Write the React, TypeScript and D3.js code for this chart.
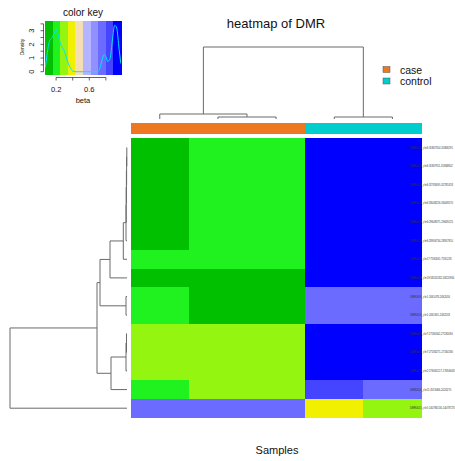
import React from "react";
import * as d3 from "d3";

// samples (columns) and their groups
const samples = ["case_1", "case_2", "case_3", "control_1", "control_2"];
const groups = ["case", "case", "case", "control", "control"];
const groupNames = ["case", "control"];
const groupColors = ["#ee7722", "#00cdcd"];

// DMR row labels (top to bottom)
const rowLabels = [
  "DMR0001_chr6:31867354-31868291",
  "DMR0002_chr6:31867911-31868802",
  "DMR0003_chr6:32783095-32785318",
  "DMR0004_chr6:33048226-33049570",
  "DMR0005_chr6:29648371-29649225",
  "DMR0006_chr6:28956734-28957810",
  "DMR0007_chr17:7590341-7591228",
  "DMR0008_chr19:58220182-58220950",
  "DMR0009_chr1:2461078-2462034",
  "DMR0010_chr1:2461901-2462533",
  "DMR0011_chr7:27180562-27181694",
  "DMR0012_chr7:27183271-27184180",
  "DMR0013_chr2:176945217-176946037",
  "DMR0014_chr11:2019466-2020270",
  "DMR0015_chr5:140786130-140787274",
];

// beta values per sample, one per DMR row
const case1 = [0.12, 0.12, 0.12, 0.13, 0.12, 0.12, 0.2, 0.1, 0.22, 0.21, 0.3, 0.29, 0.3, 0.19, 0.76];
const case2 = [0.21, 0.21, 0.22, 0.21, 0.21, 0.2, 0.2, 0.1, 0.13, 0.13, 0.3, 0.3, 0.29, 0.31, 0.76];
const case3 = [0.21, 0.22, 0.21, 0.21, 0.22, 0.21, 0.21, 0.11, 0.12, 0.13, 0.29, 0.3, 0.3, 0.31, 0.77];
const control1 = [0.95, 0.95, 0.96, 0.95, 0.95, 0.96, 0.94, 0.96, 0.77, 0.78, 0.95, 0.95, 0.94, 0.86, 0.4];
const control2 = [0.96, 0.96, 0.95, 0.96, 0.96, 0.95, 0.95, 0.97, 0.78, 0.77, 0.96, 0.96, 0.95, 0.77, 0.29];
const betaBySample = [case1, case2, case3, control1, control2];

// colour key
const keyColors = ["#00c000", "#1ff21f", "#94f510", "#f0f000", "#f5deb3", "#b4b4ff", "#9090ff", "#6b6bff", "#4545ff", "#0000ff"];
const keyRange = [0.066, 0.982];
const keyXTicks = [0.2, 0.4, 0.6, 0.8];
const keyXLabels = [0.2, 0.6];
const keyYTicks = [0, 0.5, 1, 1.5, 2, 2.5, 3, 3.5];
const keyYLabels = [0, 1, 2, 3];
// density of beta values, read from the key
const densityBeta = [0.07, 0.09, 0.11, 0.13, 0.155, 0.18, 0.2, 0.22, 0.25, 0.27, 0.3, 0.33, 0.37, 0.4, 0.43, 0.7, 0.73, 0.76, 0.78, 0.8, 0.82, 0.85, 0.88, 0.905, 0.93, 0.96, 0.98];
const densityVal = [0.3, 1.2, 2.0, 2.35, 2.5, 2.9, 3.05, 2.8, 2.1, 1.8, 1.5, 0.9, 0.3, 0.05, 0, 0, 0.3, 1.0, 1.25, 1.1, 0.75, 0.95, 2.4, 3.4, 3.2, 1.6, 0.6];

// dendrograms: leaves are indices, nodes are [left, right, height]
type Tree = number | [Tree, Tree, number];
const rowTree: Tree = [
  [
    [
      [[[[[[[0, 1, 0.002], 2, 0.004], 3, 0.006], 4, 0.008], 5, 0.01], 6, 0.037], 7, 0.17],
      [8, 9, 0.01],
      0.27,
    ],
    [[[10, 11, 0.005], 12, 0.01], 13, 0.16],
    0.3,
  ],
  14,
  1.17,
];
const colTree: Tree = [[0, [1, 2, 0.05], 0.125], [3, 4, 0.05], 1.8];

const FONT = "'Liberation Sans', Arial, Helvetica, sans-serif";
const LINE = "#6a6a6a";

type Seg = [number, number, number, number];
type Piece = { pos: number; h: number; a: number; b: number };
function layoutTree(t: Tree, leafPos: (i: number) => number, segs: Piece[]): { pos: number; h: number } {
  if (typeof t === "number") return { pos: leafPos(t), h: 0 };
  const l = layoutTree(t[0], leafPos, segs);
  const r = layoutTree(t[1], leafPos, segs);
  segs.push({ pos: l.pos, h: t[2], a: l.h, b: 0 });
  segs.push({ pos: r.pos, h: t[2], a: r.h, b: 0 });
  segs.push({ pos: l.pos, h: t[2], a: t[2], b: r.pos });
  return { pos: (l.pos + r.pos) / 2, h: t[2] };
}

export default function App() {
  const x = d3.scaleBand<number>().domain(d3.range(samples.length)).range([130.7, 421.5]);
  const y = d3.scaleBand<number>().domain(d3.range(rowLabels.length)).range([138.3, 417.5]);
  const color = d3.scaleQuantize<string>().domain(keyRange).range(keyColors);

  // row dendrogram
  const rowH = d3.scaleLinear().domain([0, 1.17]).range([127, 10]);
  const rSegs: Piece[] = [];
  layoutTree(rowTree, (i) => y(i)! + y.bandwidth() / 2, rSegs);
  const rowLines: Seg[] = rSegs.map((s) =>
    s.b === 0 ? [rowH(s.h), s.pos, rowH(s.a), s.pos] : [rowH(s.h), s.pos, rowH(s.h), s.b]
  );

  // column dendrogram
  const colH = d3.scaleLinear().domain([0, 1.8]).range([119, 47]);
  const cSegs: Piece[] = [];
  layoutTree(colTree, (i) => x(i)! + x.bandwidth() / 2, cSegs);
  const colLines: Seg[] = cSegs.map((s) =>
    s.b === 0 ? [s.pos, colH(s.h), s.pos, colH(s.a)] : [s.pos, colH(s.h), s.b, colH(s.h)]
  );

  // colour key scales
  const kx = d3.scaleLinear().domain([0, 1]).range([39.5, 122.5]);
  const ky = d3.scaleLinear().domain([0, 3]).range([71.7, 30.7]);
  const keyTop = 21;
  const keyBottom = 75;
  const bandW = (kx(keyRange[1]) - kx(keyRange[0])) / keyColors.length;
  const densityLine = d3
    .line<number>()
    .x((_, i) => kx(densityBeta[i]))
    .y((d) => ky(d))
    .curve(d3.curveMonotoneX)(densityVal);

  return (
    <svg width={455} height={461} style={{ position: "absolute", left: 0, top: 0, background: "#fff" }} fontFamily={FONT}>
      {/* colour key */}
      <text x={83} y={16} fontSize={10} textAnchor="middle" fill="#111">color key</text>
      <defs>
        <clipPath id="keyclip">
          <rect x={kx(keyRange[0])} y={keyTop} width={kx(keyRange[1]) - kx(keyRange[0])} height={keyBottom - keyTop} />
        </clipPath>
      </defs>
      <g shapeRendering="crispEdges">
        {keyColors.map((c, i) => (
          <rect key={c} x={kx(keyRange[0]) + i * bandW} y={keyTop} width={bandW + 0.5} height={keyBottom - keyTop} fill={c} />
        ))}
      </g>
      <path d={densityLine ?? ""} fill="none" stroke="#00e5ff" strokeWidth={1} clipPath="url(#keyclip)" />
      <line x1={43.5} x2={43.5} y1={ky(0)} y2={ky(3.5)} stroke="#222" strokeWidth={0.7} />
      {keyYTicks.map((t) => (
        <line key={t} x1={40.5} x2={43.5} y1={ky(t)} y2={ky(t)} stroke="#222" strokeWidth={0.7} />
      ))}
      {keyYLabels.map((t) => (
        <text key={t} transform={`translate(34,${ky(t)}) rotate(-90)`} fontSize={7.5} textAnchor="middle" fill="#111">{t}</text>
      ))}
      <text transform="translate(24,47) rotate(-90)" fontSize={5} textAnchor="middle" fill="#111">Density</text>
      <line x1={kx(0.2)} x2={kx(0.8)} y1={77.5} y2={77.5} stroke="#222" strokeWidth={0.7} />
      {keyXTicks.map((t) => (
        <line key={t} x1={kx(t)} x2={kx(t)} y1={77.5} y2={80.5} stroke="#222" strokeWidth={0.7} />
      ))}
      {keyXLabels.map((t) => (
        <text key={t} x={kx(t)} y={92} fontSize={7.5} textAnchor="middle" fill="#111">{t}</text>
      ))}
      <text x={83} y={103} fontSize={7.5} textAnchor="middle" fill="#111">beta</text>

      {/* title */}
      <text x={276} y={28} fontSize={13} textAnchor="middle" fill="#111">heatmap of DMR</text>

      {/* column dendrogram */}
      {colLines.map((l, i) => (
        <line key={i} x1={l[0]} y1={l[1]} x2={l[2]} y2={l[3]} stroke={LINE} strokeWidth={1} />
      ))}

      {/* legend */}
      {groupNames.map((g, i) => (
        <g key={g}>
          <rect x={383} y={66.5 + i * 11.5} width={7} height={6} fill={groupColors[i]} stroke="#555" strokeWidth={0.5} />
          <text x={400} y={73.5 + i * 11.5} fontSize={10.5} fill="#111">{g}</text>
        </g>
      ))}

      {/* column side colours */}
      <g shapeRendering="crispEdges">
        {samples.map((s, j) => (
          <rect key={s} x={x(j)} y={122.7} width={x.bandwidth() + 0.5} height={11.3} fill={groupColors[groupNames.indexOf(groups[j])]} />
        ))}
      </g>

      {/* heatmap cells */}
      <g shapeRendering="crispEdges">
        {betaBySample.map((col, j) =>
          col.map((v, i) => (
            <rect key={`${i}-${j}`} x={x(j)} y={y(i)} width={x.bandwidth() + 0.5} height={y.bandwidth() + 0.5} fill={color(v)} />
          ))
        )}
      </g>

      {/* row dendrogram */}
      {rowLines.map((l, i) => (
        <line key={i} x1={l[0]} y1={l[1]} x2={l[2]} y2={l[3]} stroke={LINE} strokeWidth={1} />
      ))}

      {/* row labels */}
      {rowLabels.map((r, i) => (
        <text key={r} x={410} y={y(i)! + y.bandwidth() / 2 + 1} fontSize={2.6} fill="#333">{r}</text>
      ))}

      <text x={277} y={454} fontSize={11} textAnchor="middle" fill="#111">Samples</text>
    </svg>
  );
}
